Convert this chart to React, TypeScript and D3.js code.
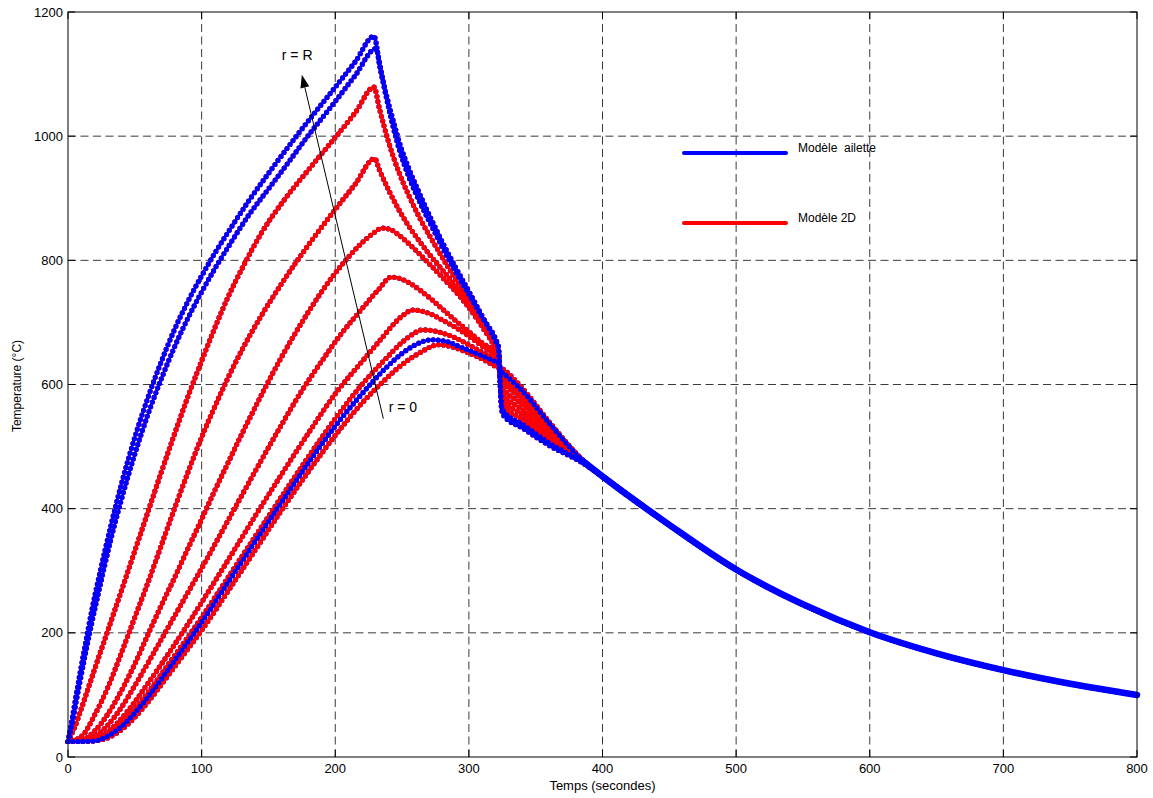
import React from "react";
import * as d3 from "d3";

type Pt = [number, number];

// Axis ticks
const xTickValues = [0, 100, 200, 300, 400, 500, 600, 700, 800];
const yTickValues = [0, 200, 400, 600, 800, 1000, 1200];

// Temperature curves, from r = R (surface) to r = 0 (centre): [time (s), temperature (°C)]
const curveR: Pt[] = [[0,25],[3,60],[6,98],[9,135],[13,182],[18,238],[24,298],[32,372],[40,440],[50,515],[60,580],[70,638],[80,690],[90,735],[100,775],[110,812],[120,846],[135,895],[150,940],[172,1003],[200,1079],[215,1120],[229,1161],[233,1118],[238,1065],[243,1018],[248,978],[255,935],[263,895],[271,860],[280,822],[290,782],[300,745],[310,708],[321,668],[322,662],[324.5,560],[326,550],[340,530],[360,502],[385,474]];
const curve1: Pt[] = [[0,25],[3,52],[6,88],[9,122],[13,166],[18,218],[24,276],[32,350],[40,415],[50,488],[60,553],[70,610],[80,662],[90,708],[100,749],[110,787],[120,822],[135,872],[150,915],[165,958],[178,996],[200,1056],[215,1098],[230.5,1141],[234,1106],[239,1060],[244,1020],[249,983],[256,943],[264,903],[271,870],[280,830],[290,789],[300,750],[310,710],[321,665],[322,660],[324.5,566],[326,557],[340,536],[360,506],[385,475]];
const curve2: Pt[] = [[0,25],[5,48],[10,78],[15,110],[20,142],[30,205],[40,268],[50,332],[60,396],[70,460],[80,522],[90,582],[100,638],[110,692],[120,742],[131,790],[145,845],[161,895],[180,946],[200,998],[215,1038],[229,1079],[233,1045],[240,990],[248,940],[256,900],[264,865],[271,838],[280,805],[290,770],[300,735],[310,700],[321,662],[322,657],[324.5,574],[326,566],[340,544],[360,511],[385,475]];
const curve3: Pt[] = [[0,25],[10,33],[20,68],[30,113],[40,168],[50,225],[60,282],[70,342],[80,402],[90,460],[100,515],[110,565],[120,612],[130,655],[145,712],[160,763],[180,825],[200,882],[215,923],[229.5,964],[233,946],[240,913],[248,880],[256,852],[264,828],[271,808],[280,785],[290,758],[300,728],[310,697],[321,660],[322,655],[324.5,582],[326,575],[340,552],[360,516],[385,476]];
const curve4: Pt[] = [[0,25],[10,27],[20,42],[30,70],[40,107],[50,150],[60,198],[70,245],[80,290],[90,337],[100,383],[110,430],[120,475],[130,520],[140,563],[150,605],[160,645],[175,700],[190,750],[205,793],[218,824],[228,843],[235,852],[241,850],[248,840],[256,825],[264,808],[271,793],[280,773],[290,750],[300,724],[310,693],[321,655],[322,651],[324.5,590],[326,584],[340,560],[360,521],[385,476]];
const curve5: Pt[] = [[0,25],[10,26],[20,33],[30,52],[40,80],[50,115],[60,152],[70,190],[80,228],[90,266],[100,304],[120,382],[140,460],[160,536],[175,590],[190,638],[205,683],[220,722],[232,752],[242,773],[248,771],[256,763],[264,751],[271,739],[280,722],[290,703],[300,685],[310,667],[321,650],[322,647],[324.5,598],[326,593],[340,568],[360,526],[385,477]];
const curve6: Pt[] = [[0,25],[10,25],[20,29],[30,41],[40,62],[50,89],[60,119],[70,150],[80,182],[90,215],[100,249],[120,318],[140,388],[160,456],[180,522],[200,585],[220,637],[235,675],[244,698],[251,712],[258,720],[265,718],[272,713],[280,704],[290,692],[300,678],[310,662],[321,645],[322,643],[324.5,606],[326,602],[340,576],[360,531],[385,477]];
const curve7: Pt[] = [[0,25],[10,25],[20,27],[30,37],[40,54],[50,77],[60,104],[70,134],[80,164],[90,194],[100,225],[120,290],[140,355],[160,420],[180,484],[200,545],[220,600],[238,642],[250,668],[258,681],[265,688],[272,687],[280,683],[290,675],[300,664],[310,652],[321,640],[322,639],[324.5,614],[326,610],[340,584],[360,536],[385,478]];
const curve8: Pt[] = [[0,25],[10,25],[20,26],[30,34],[40,49],[50,71],[60,97],[70,126],[80,156],[90,186],[100,217],[120,282],[140,347],[160,411],[180,474],[200,533],[220,585],[238,627],[250,650],[260,664],[272,672],[282,670],[292,662],[300,655],[310,646],[321,636],[322,635],[324.5,621],[326,618],[340,590],[360,538],[385,478]];
const curve0: Pt[] = [[0,25],[10,25],[20,26],[30,31],[40,44],[50,64],[60,89],[70,117],[80,146],[90,175],[100,204],[120,268],[140,333],[160,398],[180,460],[200,518],[220,570],[235,603],[250,632],[264,652],[277,664],[287,661],[295,655],[303,648],[312,639],[321,628],[322,627],[324.5,626],[326,624],[340,594],[360,540],[385,479]];

// Common cooling tail (all radii converge)
const tail: Pt[] = [[400,452],[450,374],[500,302],[550,246],[600,201],[650,167],[700,140],[750,118],[800,100]];

const radiusCurves: Pt[][] = [curveR, curve1, curve2, curve3, curve4, curve5, curve6, curve7, curve8, curve0];
// which model is drawn on top for each radius (true = "Modèle ailette")
const ailetteOnTop = [true, true, false, false, false, false, false, false, true, false];

const legendItems = [
  { label: "Modèle  ailette", color: "#0000ff" },
  { label: "Modèle 2D", color: "#ff0000" },
];

const FONT = "'Liberation Sans', Arial, Helvetica, sans-serif";
const BLUE = "#0000ff";
const RED = "#ff0000";

function Dotted({ d, color }: { d: string; color: string }) {
  return (
    <g>
      <path d={d} fill="none" stroke={color} strokeWidth={1.8} />
      <path d={d} fill="none" stroke={color} strokeWidth={5.2} strokeDasharray="0 5" strokeLinecap="round" />
    </g>
  );
}

export default function App() {
  const W = 1153, H = 798;
  const L = 68, R = 1137, T = 12, B = 757;
  const x = d3.scaleLinear().domain([0, 800]).range([L, R]);
  const y = d3.scaleLinear().domain([0, 1200]).range([B, T]);
  const line = d3.line<Pt>().x((d) => x(d[0])).y((d) => y(d[1])).curve(d3.curveMonotoneX);

  const full = radiusCurves.map((c) => line([...c, ...tail]) as string);
  const lastPts = radiusCurves.map((c) => c[c.length - 1]);
  const tailPath = line([lastPts[5], ...tail]) as string;

  const gridDash = "8 4.5";
  const gridColor = "#3a3a3a";

  // annotation arrow in data coordinates
  const a0: Pt = [236, 545];
  const a1: Pt = [175, 1099];
  const ax0 = x(a0[0]), ay0 = y(a0[1]), ax1 = x(a1[0]), ay1 = y(a1[1]);
  const ang = Math.atan2(ay1 - ay0, ax1 - ax0);
  const hl = 13, hw = 4.5;
  const bx = ax1 - hl * Math.cos(ang), by = ay1 - hl * Math.sin(ang);
  const head = `M${ax1},${ay1} L${bx + hw * Math.sin(ang)},${by - hw * Math.cos(ang)} L${bx - hw * Math.sin(ang)},${by + hw * Math.cos(ang)} Z`;

  return (
    <svg width={W} height={H} style={{ position: "absolute", left: 0, top: 0, background: "#fff" }} fontFamily={FONT}>
      <rect x={0} y={0} width={W} height={H} fill="#fff" />
      {/* grid */}
      {xTickValues.slice(1, -1).map((v) => (
        <line key={"gx" + v} x1={x(v)} x2={x(v)} y1={B} y2={T} stroke={gridColor} strokeWidth={1} strokeDasharray={gridDash} />
      ))}
      {yTickValues.slice(1, -1).map((v) => (
        <line key={"gy" + v} x1={L} x2={R} y1={y(v)} y2={y(v)} stroke={gridColor} strokeWidth={1} strokeDasharray={gridDash} />
      ))}

      {/* curves: both models */}
      {full.map((d, i) => (!ailetteOnTop[i] ? <Dotted key={"bu" + i} d={d} color={BLUE} /> : null))}
      {full.map((d, i) => (ailetteOnTop[i] ? <Dotted key={"ru" + i} d={d} color={RED} /> : null))}
      {full.map((d, i) => (!ailetteOnTop[i] ? <Dotted key={"r" + i} d={d} color={RED} /> : null))}
      {full.map((d, i) => (ailetteOnTop[i] ? <Dotted key={"b" + i} d={d} color={BLUE} /> : null))}
      <path d={tailPath} fill="none" stroke={BLUE} strokeWidth={6.5} strokeLinecap="round" />

      {/* frame */}
      <rect x={L} y={T} width={R - L} height={B - T} fill="none" stroke="#000" strokeWidth={1} />
      {xTickValues.map((v) => (
        <g key={"tx" + v}>
          <line x1={x(v)} x2={x(v)} y1={B} y2={B - 7} stroke="#000" />
          <line x1={x(v)} x2={x(v)} y1={T} y2={T + 7} stroke="#000" />
          <text x={x(v)} y={B + 16} fontSize={13} textAnchor="middle" fill="#000">{v}</text>
        </g>
      ))}
      {yTickValues.map((v) => (
        <g key={"ty" + v}>
          <line x1={L} x2={L + 7} y1={y(v)} y2={y(v)} stroke="#000" />
          <line x1={R} x2={R - 7} y1={y(v)} y2={y(v)} stroke="#000" />
          <text x={L - 5} y={y(v) + 4.5} fontSize={13} textAnchor="end" fill="#000">{v}</text>
        </g>
      ))}

      {/* axis titles */}
      <text x={(L + R) / 2} y={790} fontSize={13} textAnchor="middle" fill="#000">Temps (secondes)</text>
      <text transform={`translate(21,386) rotate(-90)`} fontSize={12} textAnchor="middle" fill="#000">Temperature (°C)</text>

      {/* annotation arrow */}
      <line x1={ax0} y1={ay0} x2={bx} y2={by} stroke="#000" strokeWidth={1} />
      <path d={head} fill="#000" />
      <text x={x(160)} y={y(1122)} fontSize={14} fill="#000">r = R</text>
      <text x={x(240)} y={y(556)} fontSize={14} fill="#000">r = 0</text>

      {/* legend */}
      {legendItems.map((it, i) => (
        <g key={it.label} transform={`translate(0,${153 + i * 70})`}>
          <line x1={684} x2={786} y1={0} y2={0} stroke={it.color} strokeWidth={4} strokeLinecap="round" />
          <text x={798} y={-1} fontSize={12} fill="#000" style={{ whiteSpace: "pre" }}>{it.label}</text>
        </g>
      ))}
    </svg>
  );
}
